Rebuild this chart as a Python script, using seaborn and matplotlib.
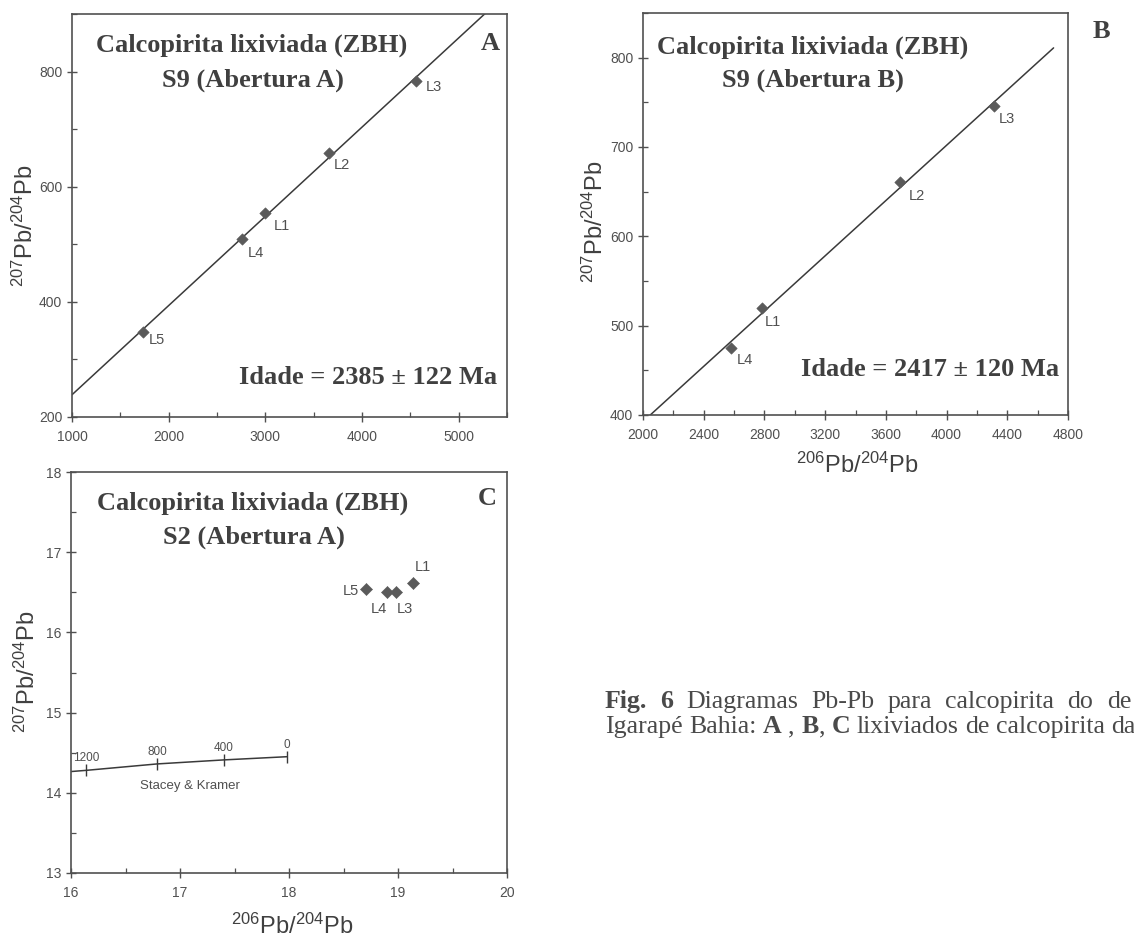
import numpy as np
import pandas as pd
import matplotlib
matplotlib.use("Agg")
import matplotlib.pyplot as plt
import seaborn as sns
from matplotlib.ticker import MultipleLocator

# ---------------- data ----------------
a_labels = ["L5", "L4", "L1", "L2", "L3"]
a_x = [1732, 2763, 3000, 3660, 4557]
a_y = [348, 509, 555, 658, 783]

b_labels = ["L4", "L1", "L2", "L3"]
b_x = [2582, 2784, 3696, 4315]
b_y = [475, 520, 661, 746]

c_labels = ["L5", "L4", "L3", "L1"]
c_x = [18.71, 18.90, 18.98, 19.14]
c_y = [16.54, 16.50, 16.50, 16.61]

# Stacey & Kramer reference curve
sk_curve_x = [16.00, 16.14, 16.79, 17.40, 17.98]
sk_curve_y = [14.265, 14.28, 14.36, 14.41, 14.45]
sk_age = ["1200", "800", "400", "0"]
sk_tick_x = [16.14, 16.79, 17.40, 17.98]
sk_tick_y = [14.28, 14.36, 14.41, 14.45]

title_line1 = "Calcopirita lixiviada (ZBH)"
a_title2, b_title2, c_title2 = "S9 (Abertura A)", "S9 (Abertura B)", "S2 (Abertura A)"
a_age, b_age = "Idade = 2385 \u00b1 122 Ma", "Idade = 2417 \u00b1 120 Ma"
ylab = r"$^{207}$Pb/$^{204}$Pb"
xlab = r"$^{206}$Pb/$^{204}$Pb"

# ---------------- style ----------------
sns.set_style("ticks")
plt.rcParams["font.family"] = ["Liberation Sans", "DejaVu Sans"]
plt.rcParams["mathtext.fontset"] = "custom"
plt.rcParams["mathtext.rm"] = "Liberation Sans"
plt.rcParams["mathtext.it"] = "Liberation Sans:italic"
plt.rcParams["mathtext.bf"] = "Liberation Sans:bold"

spine_c = "#505050"
line_c = "#3a3a3a"
marker_c = "#5a5a5a"
text_c = "#404040"
tick_c = "#505050"
serif = ["Liberation Serif", "DejaVu Serif"]

W, H = 1134, 940
fig = plt.figure(figsize=(W / 100, H / 100), dpi=100)
fig.patch.set_facecolor("white")


def ax_at(l, t, r, b):
    return fig.add_axes([l / W, 1 - b / H, (r - l) / W, (b - t) / H])


def ftext(x, y, s, **kw):
    return fig.text(x / W, 1 - y / H, s, **kw)


def style_axis(ax, xlim, ylim, xmaj, xmin, ymaj, ymin):
    ax.set_xlim(xlim)
    ax.set_ylim(ylim)
    ax.xaxis.set_major_locator(MultipleLocator(xmaj))
    ax.xaxis.set_minor_locator(MultipleLocator(xmin))
    ax.yaxis.set_major_locator(MultipleLocator(ymaj))
    ax.yaxis.set_minor_locator(MultipleLocator(ymin))
    ax.tick_params(which="major", direction="inout", length=7, width=1.0,
                   color=spine_c, labelsize=10, labelcolor=tick_c)
    ax.tick_params(axis="x", which="major", pad=6)
    ax.tick_params(axis="y", which="major", pad=3.5)
    ax.tick_params(which="minor", direction="in", length=3.5, width=0.9,
                   color=spine_c)
    for s in ax.spines.values():
        s.set_visible(True)
        s.set_color(spine_c)
        s.set_linewidth(1.2)
    ax.set_xlabel("")
    ax.set_ylabel("")
    ax.set_facecolor("white")


def label_points(ax, df, offsets):
    for _, r in df.iterrows():
        dx, dy, ha = offsets[r["label"]]
        ax.annotate(r["label"], (r["x"], r["y"]), xytext=(dx, dy),
                    textcoords="offset pixels", ha=ha, va="center",
                    fontsize=10.5, color=tick_c)


axA = ax_at(72, 14, 507, 417)
axB = ax_at(643, 13, 1068, 415)
axC = ax_at(71, 472, 507, 873)

# ---------------- Panel A ----------------
dfA = pd.DataFrame({"x": a_x, "y": a_y, "label": a_labels})
axA.set_xlim(1000, 5500)
axA.set_ylim(200, 900)
sns.regplot(data=dfA, x="x", y="y", ax=axA, scatter=False, ci=None,
            truncate=False, line_kws=dict(color=line_c, lw=1.1))
sns.scatterplot(data=dfA, x="x", y="y", ax=axA, marker="D", s=34,
                color=marker_c, edgecolor=marker_c, linewidth=0.4, zorder=3)
style_axis(axA, (1000, 5500), (200, 900), 1000, 500, 200, 100)
label_points(axA, dfA, {"L5": (6, -8, "left"), "L4": (5, -14, "left"),
                        "L1": (8, -13, "left"), "L2": (5, -12, "left"),
                        "L3": (10, -6, "left")})

# ---------------- Panel B ----------------
dfB = pd.DataFrame({"x": b_x, "y": b_y, "label": b_labels})
axB.set_xlim(2000, 4705)
axB.set_ylim(400, 850)
sns.regplot(data=dfB, x="x", y="y", ax=axB, scatter=False, ci=None,
            truncate=False, line_kws=dict(color=line_c, lw=1.1))
sns.scatterplot(data=dfB, x="x", y="y", ax=axB, marker="D", s=34,
                color=marker_c, edgecolor=marker_c, linewidth=0.4, zorder=3)
style_axis(axB, (2000, 4800), (400, 850), 400, 200, 100, 50)
label_points(axB, dfB, {"L4": (5, -12, "left"), "L1": (3, -14, "left"),
                        "L2": (8, -14, "left"), "L3": (4, -13, "left")})

# ---------------- Panel C ----------------
dfC = pd.DataFrame({"x": c_x, "y": c_y, "label": c_labels})
sns.lineplot(x=sk_curve_x, y=sk_curve_y, ax=axC, sort=False, estimator=None,
             color=line_c, lw=1.1)
sns.scatterplot(x=sk_tick_x, y=sk_tick_y, ax=axC, marker="|", s=70,
                color=line_c, linewidth=1.0, zorder=3)
for age, x, y in zip(sk_age, sk_tick_x, sk_tick_y):
    axC.annotate(age, (x, y), xytext=(0, 12), textcoords="offset pixels",
                 ha="center", va="center", fontsize=8.5, color=tick_c)
axC.text(17.09, 14.08, "Stacey & Kramer", ha="center", va="center",
         fontsize=9.5, color=tick_c)
sns.scatterplot(data=dfC, x="x", y="y", ax=axC, marker="D", s=38,
                color=marker_c, edgecolor=marker_c, linewidth=0.4, zorder=3)
style_axis(axC, (16, 20), (13, 18), 1, 0.5, 1, 0.5)
label_points(axC, dfC, {"L5": (-7, -2, "right"), "L4": (-8, -17, "center"),
                        "L3": (9, -17, "center"), "L1": (10, 16, "center")})

# ---------------- titles / annotations ----------------
tkw = dict(ha="center", va="center", fontsize=19, fontweight="bold",
           family=serif, color=text_c)
ftext(252, 45, title_line1, **tkw)
ftext(253, 80, a_title2, **tkw)
ftext(813, 47, title_line1, **tkw)
ftext(813, 80, b_title2, **tkw)
ftext(253, 503, title_line1, **tkw)
ftext(254, 537, c_title2, **tkw)

ftext(490, 43, "A", **tkw)
ftext(1101, 32, "B", **tkw)
ftext(487, 499, "C", **tkw)

ftext(368, 377, a_age, **tkw)
ftext(930, 370, b_age, **tkw)

lkw = dict(ha="center", va="center", fontsize=17, color=text_c)
ftext(25, 226, ylab, rotation=90, **lkw)
ftext(595, 222, ylab, rotation=90, **lkw)
ftext(27, 672, ylab, rotation=90, **lkw)
ftext(857, 465, xlab, **lkw)
ftext(292, 926, xlab, **lkw)

# ---------------- caption ----------------
cap_c = "#4a4a4a"
cap_fs = 18.6
renderer = fig.canvas.get_renderer()


def text_w(s, weight):
    t = fig.text(0, 0, s, fontsize=cap_fs, family=serif, fontweight=weight)
    w = t.get_window_extent(renderer).width
    t.remove()
    return w


space_w = text_w("a a", "normal") - text_w("aa", "normal")

line1 = [("Fig.", "bold"), ("6", "bold"), ("Diagramas", "normal"),
         ("Pb-Pb", "normal"), ("para", "normal"), ("calcopirita", "normal"),
         ("do", "normal"), ("de", "normal")]
x0, x_end = 605, 1131
widths = [text_w(s, w) for s, w in line1]
gap = (x_end - x0 - sum(widths)) / (len(line1) - 1)
x = x0
for (s, w), wd in zip(line1, widths):
    ftext(x, 708, s, fontsize=cap_fs, family=serif, fontweight=w,
          color=cap_c, ha="left", va="baseline")
    x += wd + gap

line2 = [("Igarapé", "normal", 0), ("Bahia:", "normal", 1), ("A", "bold", 1),
         (",", "normal", 1), ("B", "bold", 1), (",", "normal", 0),
         ("C", "bold", 1), ("lixiviados", "normal", 1), ("de", "normal", 1),
         ("calcopirita", "normal", 1), ("da", "normal", 1)]
x = x0
for s, w, sp in line2:
    x += sp * space_w
    ftext(x, 733, s, fontsize=cap_fs, family=serif, fontweight=w,
          color=cap_c, ha="left", va="baseline")
    x += text_w(s, w)

fig.savefig("out.png", dpi=100, facecolor="white")
